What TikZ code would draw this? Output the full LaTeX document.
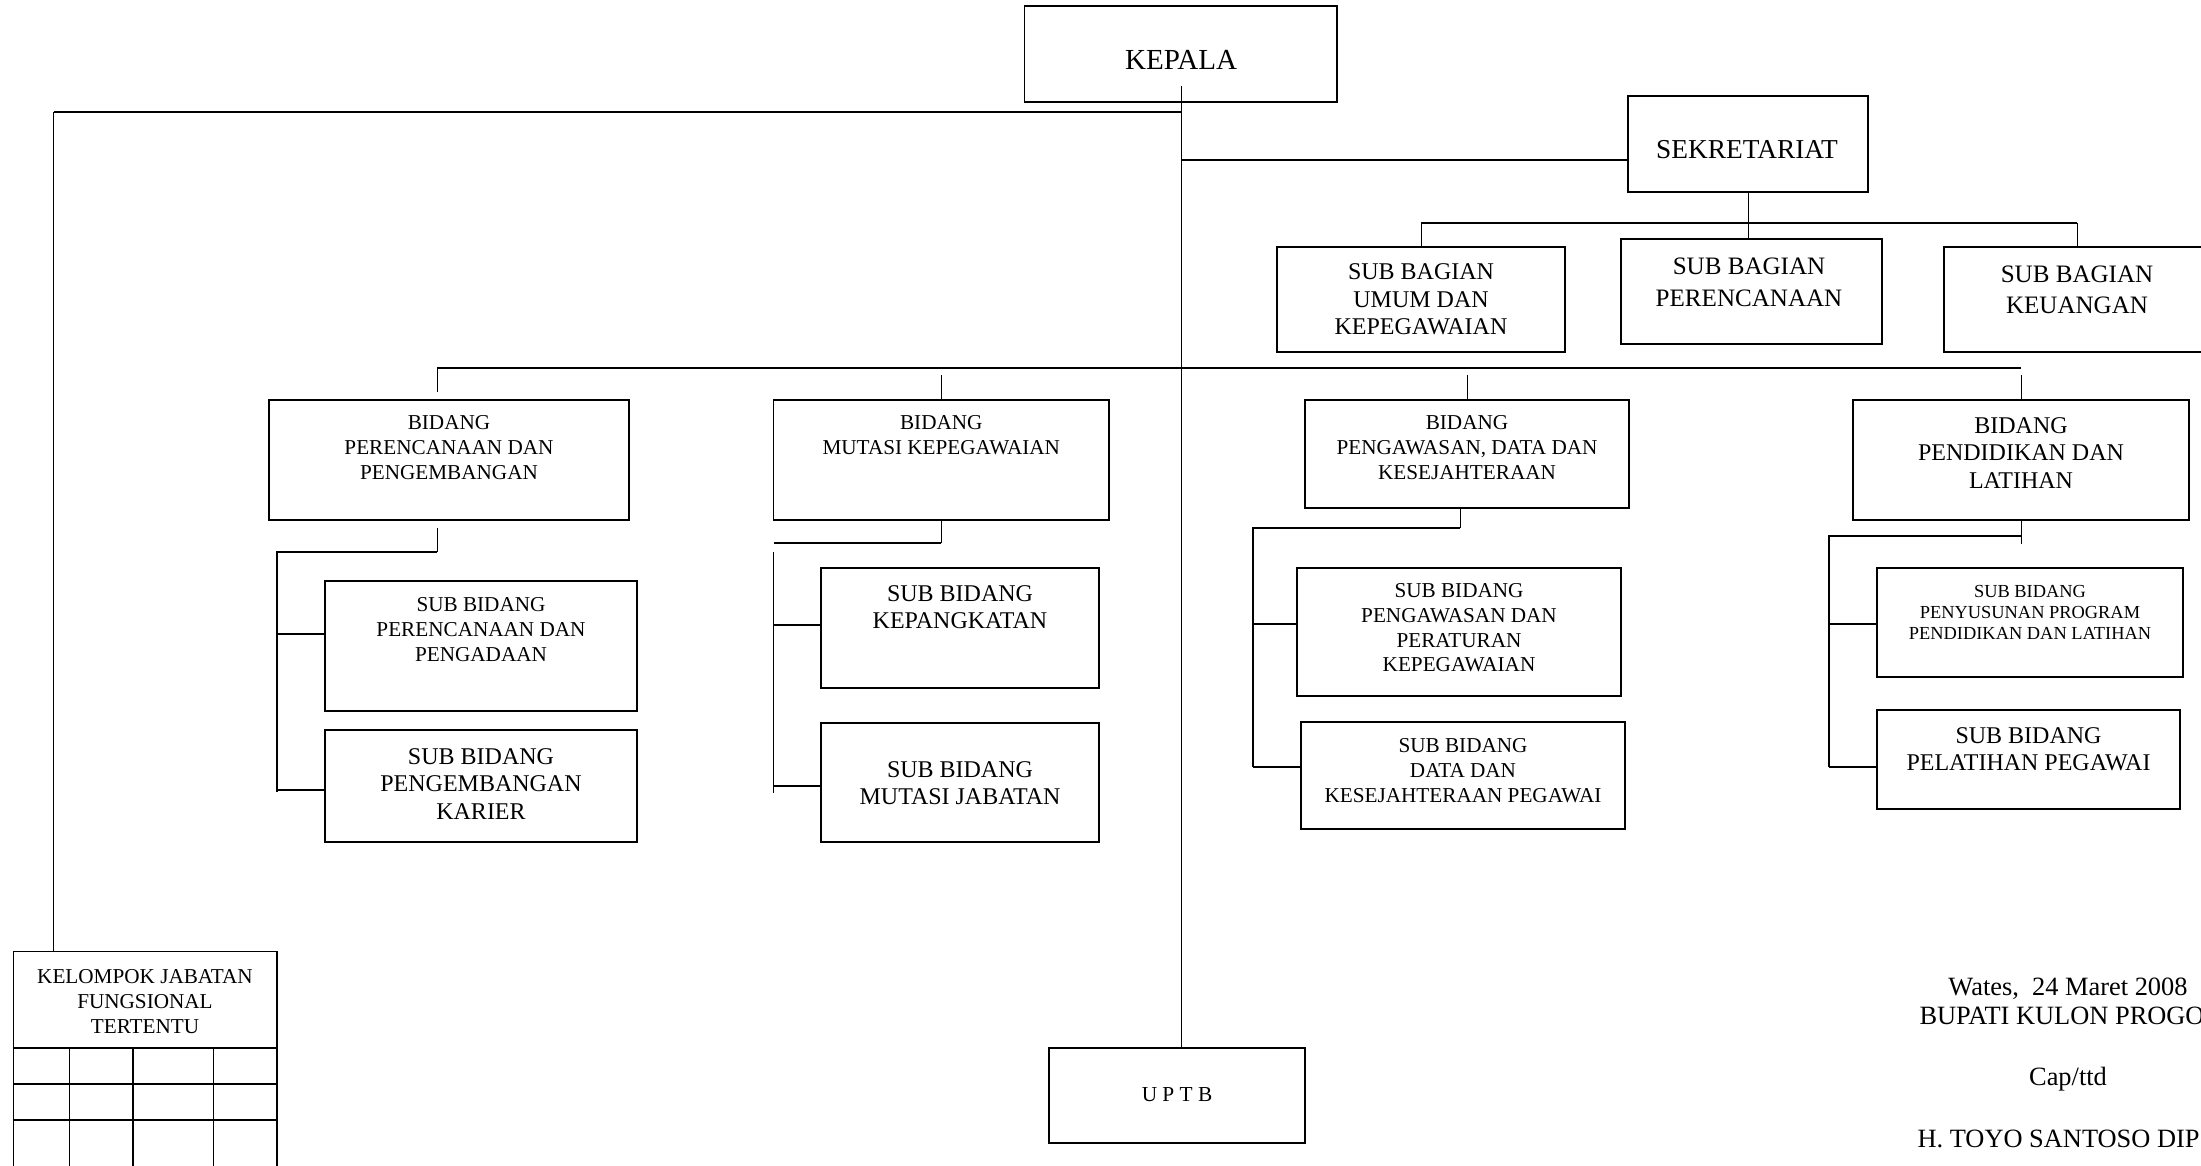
\documentclass[tikz,border=0pt]{standalone}
\usepackage{fontspec}
\setmainfont{Liberation Serif}
\usetikzlibrary{fit}

\tikzset{every picture/.style={line width=0.75pt}}
\tikzset{
  box/.style={draw, line width=1.1pt, inner sep=0pt},
  thinln/.style={line width=0.6pt},
  thickln/.style={line width=1.3pt},
  gridln/.style={line width=0.9pt},
  lbl/.style={inner sep=0pt, align=center, anchor=north},
  fontXL/.style={font=\fontsize{21.8}{25}\selectfont},
  fontL/.style={font=\fontsize{20.5}{24}\selectfont},
  fontMB/.style={font=\fontsize{18.8}{23.8}\selectfont},
  fontM/.style={font=\fontsize{18}{20.6}\selectfont},
  fontS/.style={font=\fontsize{15.9}{18.6}\selectfont},
  fontXS/.style={font=\fontsize{13.8}{15.8}\selectfont},
  fontU/.style={font=\fontsize{16}{19}\selectfont},
  fontSig/.style={font=\fontsize{19.8}{23}\selectfont},
}

\begin{document}
\begin{tikzpicture}[x=0.75pt,y=0.75pt,yscale=-1,xscale=1]
\useasboundingbox (0,0) rectangle (2201,1166);

%Shape: Rectangle [kepala, sekretariat]
\node[box, fit={(1024.5,6) (1337,102)}] (kepala) {};
\node[box, fit={(1628,96) (1868,192)}] (sekre) {};
%Shape: Rectangle [sub bagian]
\node[box, fit={(1277,247) (1565,352)}] (sbUmum) {};
\node[box, fit={(1621,239) (1882,344)}] (sbRen) {};
\node[box, fit={(1944,247) (2210,352)}] (sbUang) {};
%Shape: Rectangle [bidang]
\node[box, fit={(269,400) (629,520)}] (bRen) {};
\node[box, fit={(773.6,400) (1109,520)}] (bMut) {};
\node[box, fit={(1305,400) (1629,508)}] (bWas) {};
\node[box, fit={(1853,400) (2189,520)}] (bDik) {};
%Shape: Rectangle [sub bidang]
\node[box, fit={(325,581) (637,711)}] (sRenAda) {};
\node[box, fit={(325,730) (637,842)}] (sRenKar) {};
\node[box, fit={(821,568) (1099,688)}] (sMutPkt) {};
\node[box, fit={(821,723) (1099,842)}] (sMutJab) {};
\node[box, fit={(1297,568) (1621,696)}] (sWasAtur) {};
\node[box, fit={(1301,722) (1625,829)}] (sWasData) {};
\node[box, fit={(1877,568) (2183,677)}] (sDikProg) {};
\node[box, fit={(1877,710) (2180,809)}] (sDikLat) {};
%Shape: Rectangle [kelompok jabatan, uptb]
\node[box, fit={(13.4,951.7) (276.8,1190)}] (kjf) {};
\node[box, fit={(1049,1048) (1305,1143)}] (uptb) {};

%Grid of kelompok jabatan
\foreach \y in {1048,1084,1120}
  \draw[thickln] (kjf.west |- 0,\y) -- (kjf.east |- 0,\y);
\foreach \x in {69.6,133,213.4}
  \draw[gridln] (\x,1048) -- (\x,1190);

%Straight Lines [trunk and left branch]
\coordinate (kTop) at (1181,86);
\draw[thinln] (kTop) -- (kTop |- uptb.north);
\coordinate (kjfBend) at (53.6,112);
\draw[thickln] (kTop |- kjfBend) -- (kjfBend);
\draw[thinln] (kjfBend) -- (kjfBend |- kjf.north);

%Straight Lines [sekretariat]
\coordinate (sJoin) at (1628,160);
\draw[thickln] (kTop |- sJoin) -- (sJoin);
\draw[thinln] (sekre.south) -- (sekre.south |- sbRen.north);
\coordinate (sbBus) at (1748,223);
\draw[thickln] (sbUmum.north |- sbBus) -- (sbUang.north |- sbBus);
\draw[thinln] (sbUmum.north |- sbBus) -- (sbUmum.north);
\draw[thinln] (sbUang.north |- sbBus) -- (sbUang.north);

%Straight Lines [bidang bus]
\coordinate (bBus) at (1181,368);
\coordinate (renTop) at (437,392);
\draw[thickln] (renTop |- bBus) -- (bDik.north |- bBus);
\draw[thinln] (renTop |- bBus) -- (renTop);
\coordinate (mutTop) at (bMut.north |- 0,375);
\draw[thinln] (mutTop) -- (bMut.north);
\coordinate (wasTop) at (bWas.north |- 0,375);
\draw[thinln] (wasTop) -- (bWas.north);
\coordinate (dikTop) at (bDik.north |- 0,375);
\draw[thinln] (dikTop) -- (bDik.north);

%Straight Lines [perencanaan]
\coordinate (renA) at (437,528);
\coordinate (renB) at (277,552);
\draw[thinln] (renA) -- (renA |- renB);
\draw[thickln] (renA |- renB) -- (renB) -- (renB |- 0,792);
\draw[thickln] (renB |- 0,634) -- (sRenAda.west |- 0,634);
\draw[thickln] (renB |- 0,790) -- (sRenKar.west |- 0,790);

%Straight Lines [mutasi]
\coordinate (mutB) at (773.6,543);
\coordinate (mutC) at (773.6,552);
\draw[thinln] (bMut.south) -- (bMut.south |- mutB);
\draw[thickln] (bMut.south |- mutB) -- (mutB);
\draw[thickln] (mutC) -- (mutC |- 0,793);
\draw[thickln] (mutC |- 0,625) -- (sMutPkt.west |- 0,625);
\draw[thickln] (mutC |- 0,786) -- (sMutJab.west |- 0,786);

%Straight Lines [pengawasan]
\coordinate (wasA) at (1460,508);
\coordinate (wasB) at (1253,528);
\draw[thinln] (wasA) -- (wasA |- wasB);
\draw[thickln] (wasA |- wasB) -- (wasB) -- (wasB |- 0,767);
\draw[thickln] (wasB |- 0,624) -- (sWasAtur.west |- 0,624);
\draw[thickln] (wasB |- 0,767) -- (sWasData.west |- 0,767);

%Straight Lines [pendidikan]
\coordinate (dikA) at (2020,544);
\coordinate (dikB) at (1829,536);
\draw[thinln] (bDik.south) -- (bDik.south |- dikA);
\draw[thickln] (bDik.south |- dikB) -- (dikB) -- (dikB |- 0,767);
\draw[thickln] (dikB |- 0,624) -- (sDikProg.west |- 0,624);
\draw[thickln] (dikB |- 0,767) -- (sDikLat.west |- 0,767);

% Text Node
\node[fontXL, lbl] (tKepala) at (1181,50) {KEPALA};
\node[fontL, lbl] (tSekre) at (1747,140) {SEKRETARIAT};
\node[fontM, lbl] (tSbUmum) at (1421,263.5) {SUB BAGIAN\\UMUM DAN\\KEPEGAWAIAN};
\node[fontMB, lbl] (tSbRen) at (1749,257.3) {SUB BAGIAN\\PERENCANAAN};
\node[fontMB, lbl] (tSbUang) at (2077,265) {SUB BAGIAN\\KEUANGAN};
\node[fontS, lbl] (tbRen) at (449,415) {BIDANG\\PERENCANAAN DAN\\PENGEMBANGAN};
\node[fontS, lbl] (tbMut) at (941.3,415) {BIDANG\\MUTASI KEPEGAWAIAN};
\node[fontS, lbl] (tbWas) at (1467,415) {BIDANG\\PENGAWASAN, DATA DAN\\KESEJAHTERAAN};
\node[fontM, lbl] (tbDik) at (2021,417) {BIDANG\\PENDIDIKAN DAN\\LATIHAN};
\node[fontS, lbl] (tsRenAda) at (481,597) {SUB BIDANG\\PERENCANAAN DAN\\PENGADAAN};
\node[fontM, lbl] (tsRenKar) at (481,748) {SUB BIDANG\\PENGEMBANGAN\\KARIER};
\node[fontM, lbl] (tsMutPkt) at (960,585) {SUB BIDANG\\KEPANGKATAN};
\node[fontM, lbl] (tsMutJab) at (960,761) {SUB BIDANG\\MUTASI JABATAN};
\node[fontS, lbl] (tsWasAtur) at (1459,583) {SUB BIDANG\\PENGAWASAN DAN\\PERATURAN\\KEPEGAWAIAN};
\node[fontS, lbl] (tsWasData) at (1463,738) {SUB BIDANG\\DATA DAN\\KESEJAHTERAAN PEGAWAI};
\node[fontXS, lbl] (tsDikProg) at (2030,585) {SUB BIDANG\\PENYUSUNAN PROGRAM\\PENDIDIKAN DAN LATIHAN};
\node[fontM, lbl] (tsDikLat) at (2028.5,727) {SUB BIDANG\\PELATIHAN PEGAWAI};
\node[fontS, lbl] (tKjf) at (145,969) {KELOMPOK JABATAN\\FUNGSIONAL\\TERTENTU};
\node[fontU, lbl] (tUptb) at (1177,1087) {U P T B};
% Text Node [tanda tangan]
\node[fontSig, lbl] (sigDate) at (2068,977) {Wates,~~24 Maret 2008};
\node[fontSig, lbl, anchor=north west] (sigJab) at (1919,1007) {BUPATI KULON PROGO};
\node[fontSig, lbl] (sigCap) at (2068,1067) {Cap/ttd};
\node[fontSig, lbl, anchor=north west] (sigName) at (1917,1130) {H. TOYO SANTOSO DIP};

\end{tikzpicture}
\end{document}
